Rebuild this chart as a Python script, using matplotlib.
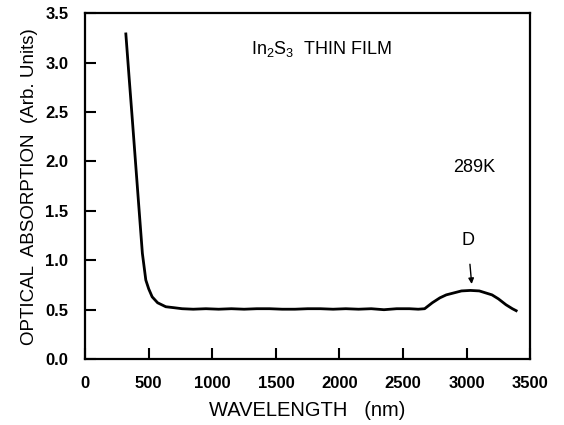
import matplotlib.pyplot as plt

plt.rcParams["font.family"] = ["Liberation Sans", "DejaVu Sans"]
plt.rcParams["mathtext.fontset"] = "custom"
plt.rcParams["mathtext.rm"] = "Liberation Sans"
plt.rcParams["mathtext.it"] = "Liberation Sans"

# wavelength (nm) and absorption
wavelength = [320, 345, 370, 395, 420, 450, 477, 500, 527, 570,
              634, 700, 762, 850, 950, 1050, 1150, 1250, 1350, 1450, 1550,
              1650, 1750, 1850, 1950, 2050, 2150, 2250, 2350, 2450, 2550,
              2620, 2670, 2700, 2730, 2790, 2840, 2900, 2960, 3030, 3100,
              3150, 3200, 3250, 3310, 3360, 3390]
absorption = [3.29, 2.86, 2.44, 2.01, 1.58, 1.07, 0.80, 0.71,
              0.63, 0.57, 0.53, 0.52, 0.51, 0.505, 0.51, 0.505, 0.51, 0.505,
              0.51, 0.51, 0.505, 0.505, 0.51, 0.51, 0.505, 0.51, 0.505, 0.51,
              0.50, 0.51, 0.51, 0.505, 0.51, 0.54, 0.57, 0.62, 0.65, 0.67,
              0.69, 0.695, 0.69, 0.67, 0.65, 0.61, 0.55, 0.51, 0.49]

x_ticks = [0, 500, 1000, 1500, 2000, 2500, 3000, 3500]
y_ticks = [0.0, 0.5, 1.0, 1.5, 2.0, 2.5, 3.0, 3.5]

fig = plt.figure(figsize=(5.64, 4.25), dpi=100)
ax = fig.add_axes([0.151, 0.155, 0.789, 0.814])

ax.plot(wavelength, absorption, color="black", lw=2)

ax.set_xlim(0, 3500)
ax.set_ylim(0, 3.5)
ax.set_xticks(x_ticks)
ax.set_yticks(y_ticks)
ax.set_xticklabels([str(t) for t in x_ticks])
ax.set_yticklabels(["%.1f" % t for t in y_ticks])
ax.tick_params(direction="in", length=8, width=1.5, labelsize=12,
               top=False, right=False)
ax.tick_params(axis="x", pad=12)
ax.tick_params(axis="y", pad=12)
for lab in ax.get_xticklabels() + ax.get_yticklabels():
    lab.set_fontweight("bold")
for s in ax.spines.values():
    s.set_linewidth(1.6)

ax.set_xlabel("WAVELENGTH   (nm)", fontsize=14.5, labelpad=7)
ax.set_ylabel("OPTICAL  ABSORPTION  (Arb. Units)", fontsize=13.5, labelpad=5)

ax.text(1855, 3.14, r"In$_2$S$_3$  THIN FILM", fontsize=13, ha="center",
        va="center")
ax.text(3060, 1.94, "289K", fontsize=13, ha="center", va="center")
ax.annotate("D", xy=(3040, 0.76), xytext=(3010, 1.2), fontsize=13,
            ha="center", va="center",
            arrowprops=dict(arrowstyle="-|>", color="black", lw=1,
                            shrinkA=9, shrinkB=0, mutation_scale=8))

fig.savefig("out.png", dpi=100)
